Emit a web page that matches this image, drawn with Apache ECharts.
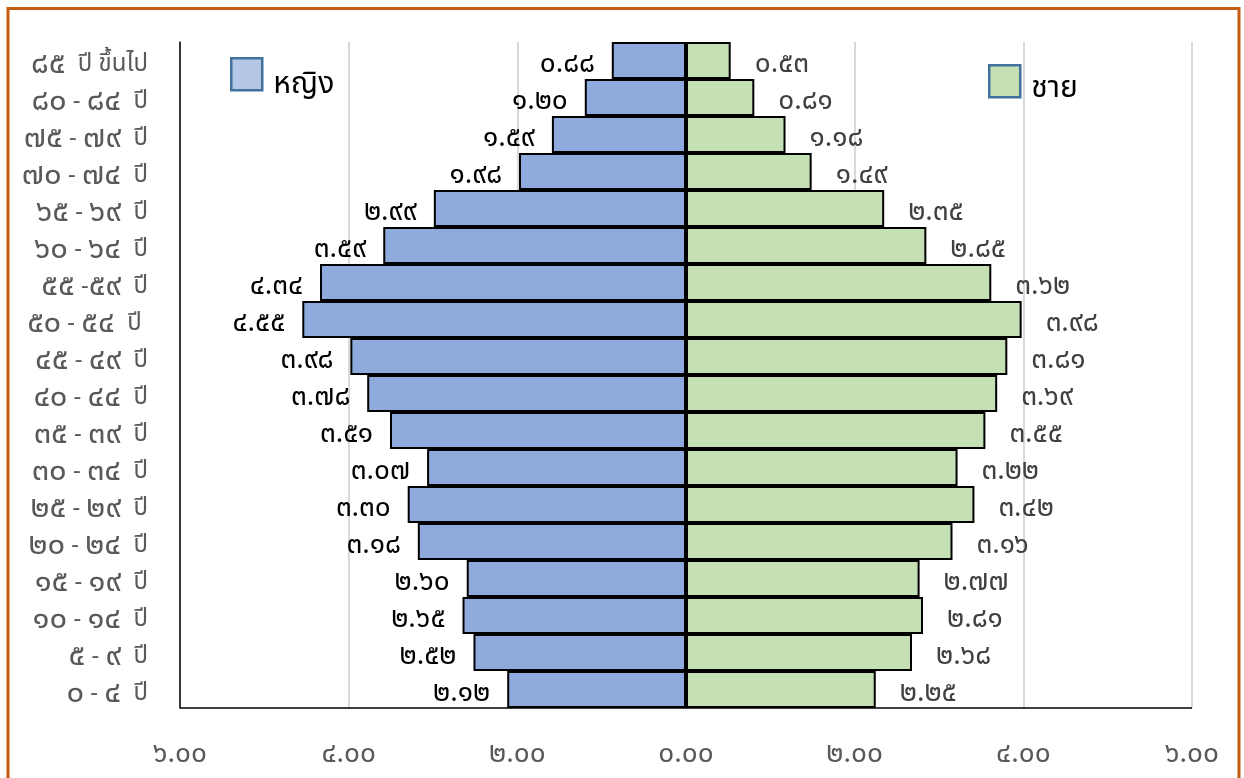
<!DOCTYPE html>
<html>
<head>
<meta charset="utf-8">
<script src="https://cdn.jsdelivr.net/npm/echarts@6/dist/echarts.min.js"></script>
<style>
  html, body { margin: 0; padding: 0; background: #fff; }
  #chart { width: 1244px; height: 778px; }
</style>
</head>
<body>
<div id="chart"></div>
<script>
// Age groups, bottom to top
const ageGroups = [
  '๐ - ๔  ปี', '๕ - ๙  ปี', '๑๐ - ๑๔  ปี', '๑๕ - ๑๙  ปี', '๒๐ - ๒๔  ปี',
  '๒๕ - ๒๙  ปี', '๓๐ - ๓๔  ปี', '๓๕ - ๓๙  ปี', '๔๐ - ๔๔  ปี', '๔๕ - ๔๙  ปี',
  '๕๐ - ๕๔  ปี ', '๕๕ -๕๙  ปี', '๖๐ - ๖๔  ปี', '๖๕ - ๖๙  ปี', '๗๐ - ๗๔  ปี',
  '๗๕ - ๗๙  ปี', '๘๐ - ๘๔  ปี', '๘๕  ปี ขึ้นไป'
];

// Percent of population, same order as ageGroups
const female = [2.12, 2.52, 2.65, 2.60, 3.18, 3.30, 3.07, 3.51, 3.78, 3.98,
                4.55, 4.34, 3.59, 2.99, 1.98, 1.59, 1.20, 0.88];
const male   = [2.25, 2.68, 2.81, 2.77, 3.16, 3.42, 3.22, 3.55, 3.69, 3.81,
                3.98, 3.62, 2.85, 2.35, 1.49, 1.18, 0.81, 0.53];

const seriesNames = ['หญิง', 'ชาย'];

const thaiDigits = ['๐', '๑', '๒', '๓', '๔', '๕', '๖', '๗', '๘', '๙'];
function toThai(str) {
  return String(str).replace(/[0-9]/g, d => thaiDigits[+d]);
}
function fmt(v) { return toThai(Math.abs(v).toFixed(2)); }

// Thai numerals get a larger size than the letters in the age labels
function richAge(label) {
  return label.split(/([๐-๙]+)/).filter(s => s.length)
    .map(s => /[๐-๙]/.test(s) ? '{d|' + s + '}' : '{t|' + s + '}').join('');
}

const FONT = "Tahoma, 'Leelawadee UI', 'Noto Sans Thai', 'Noto Sans', sans-serif";

// Legend labels sit a little below the middle of their swatch
const legendText = (pad) => ({
  fontSize: 30, color: '#000', fontFamily: FONT,
  rich: { n: { fontSize: 30, color: '#000', fontFamily: FONT, padding: [pad, 0, 0, 6] } }
});

const chart = echarts.init(document.getElementById('chart'));
chart.setOption({
  backgroundColor: '#ffffff',
  animation: false,
  textStyle: { fontFamily: FONT },
  grid: { left: 180, right: 52, top: 42, bottom: 70, containLabel: false },
  legend: [
    {
      left: 230, top: 57, orient: 'vertical', padding: 0,
      itemWidth: 31, itemHeight: 32, icon: 'rect',
      selectedMode: false,
      formatter: name => '{n|' + name + '}',
      data: [{ name: seriesNames[0], itemStyle: { color: '#B4C7E7', borderColor: '#41719C', borderWidth: 2.5 } }],
      textStyle: legendText(26)
    },
    {
      left: 988, top: 64, orient: 'vertical', padding: 0,
      itemWidth: 31, itemHeight: 32, icon: 'rect',
      selectedMode: false,
      formatter: name => '{n|' + name + '}',
      data: [{ name: seriesNames[1], itemStyle: { color: '#C5E0B4', borderColor: '#41719C', borderWidth: 2.5 } }],
      textStyle: legendText(20)
    }
  ],
  xAxis: {
    type: 'value', min: -6, max: 6, interval: 2,
    axisLine: { show: false },
    axisTick: { show: false },
    splitLine: { show: true, lineStyle: { color: '#D9D9D9', width: 2 } },
    axisLabel: {
      formatter: v => fmt(v), margin: 34,
      color: '#595959', fontSize: 28, fontFamily: FONT
    }
  },
  yAxis: {
    type: 'category', data: ageGroups,
    axisLine: { show: true, onZero: false, lineStyle: { color: '#000', width: 1.5 } },
    axisTick: { show: false },
    axisLabel: {
      margin: 32, color: '#595959', fontFamily: FONT,
      formatter: v => richAge(v),
      rich: {
        d: { fontSize: 31, color: '#595959', fontFamily: FONT, padding: [12, 0, 0, 0] },
        t: { fontSize: 24, color: '#595959', fontFamily: FONT, padding: [12, 0, 0, 0] }
      }
    }
  },
  series: [
    {
      name: seriesNames[0], type: 'bar', stack: 'pop',
      barCategoryGap: 0, barWidth: '100%',
      data: female.map(v => -v),
      itemStyle: { color: '#8FAADC', borderColor: '#000', borderWidth: 2 },
      label: {
        show: true, position: 'left', distance: 17, offset: [0, 6],
        formatter: p => fmt(p.value), color: '#000', fontSize: 28, fontFamily: FONT
      }
    },
    {
      name: seriesNames[1], type: 'bar', stack: 'pop',
      barCategoryGap: 0, barWidth: '100%',
      data: male,
      itemStyle: { color: '#C5E0B4', borderColor: '#000', borderWidth: 2 },
      label: {
        show: true, position: 'right', distance: 24, offset: [0, 6],
        formatter: p => fmt(p.value), color: '#404040', fontSize: 28, fontFamily: FONT
      }
    }
  ],
  graphic: [
    {
      type: 'line', silent: true, z: 10,
      shape: { x1: 180, y1: 708, x2: 1192, y2: 708 },
      style: { stroke: '#000', lineWidth: 1.5 }
    },
    {
      type: 'rect', silent: true, z: 20,
      shape: { x: 8, y: 8.5, width: 1231, height: 800 },
      style: { fill: null, stroke: '#C55A11', lineWidth: 3 }
    }
  ]
});
</script>
</body>
</html>
